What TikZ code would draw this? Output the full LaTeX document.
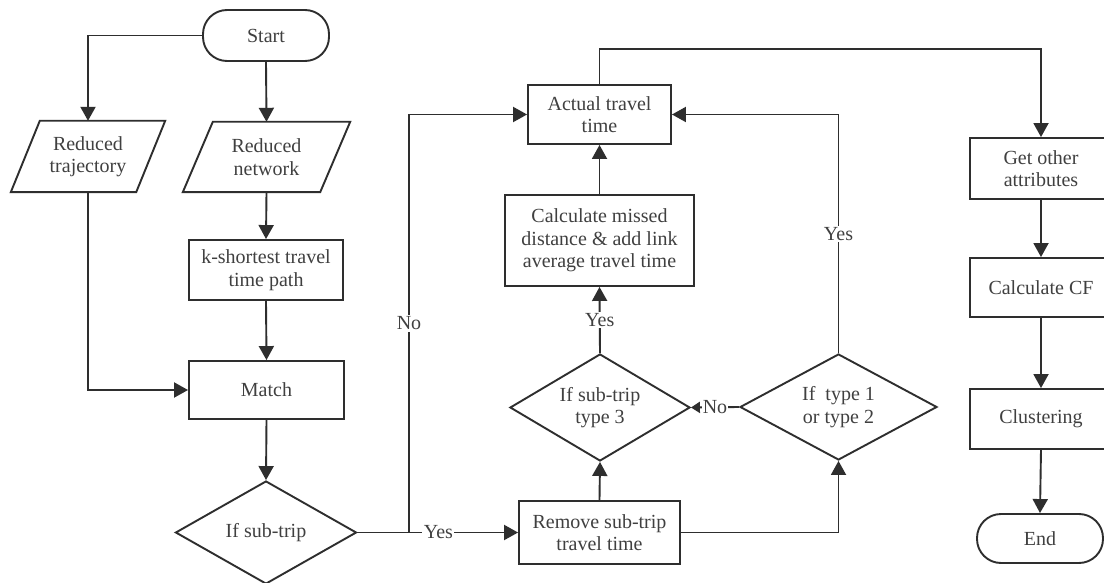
\documentclass[tikz,border=0pt]{standalone}
\usepackage{fontspec}
\setmainfont{Liberation Serif}
\usetikzlibrary{arrows.meta,shapes.geometric}
\definecolor{ink}{HTML}{2E2E2E}
\definecolor{txt}{HTML}{404040}
\tikzset{
  every node/.style={font=\fontsize{20}{22.5}\selectfont, text=txt, align=center},
  box/.style={draw=ink, line width=1.9pt, rectangle, inner sep=0pt},
  term/.style={box, rounded corners=24pt},
  dec/.style={draw=ink, line width=1.9pt, diamond, aspect=1.7, inner sep=0pt},
  ghost/.style={rectangle, inner sep=0pt},
  link/.style={draw=ink, line width=1.9pt},
  flow/.style={link, -{Triangle[length=14pt,width=15pt]}},
  smallflow/.style={link, -{Triangle[length=9pt,width=11pt]}},
  lbl/.style={fill=white, inner sep=1.5pt},
}
\begin{document}
\begin{tikzpicture}[x=1pt,y=-1pt]
  \useasboundingbox (0,0) rectangle (1104,583);
  \clip (0,0) rectangle (1104,583);
  \fill[white] (0,0) rectangle (1104,583);

  % left column: inputs and matching
  \node[term, minimum width=126pt, minimum height=51pt] (start) at (266,35.5) {Start};
  \node[ghost, minimum width=125pt, minimum height=71pt] (traj) at (88,156.5) {Reduced\\trajectory};
  \node[ghost, minimum width=137pt, minimum height=70pt] (net) at (266.5,157) {Reduced\\network};
  \node[box, minimum width=154pt, minimum height=60pt] (kpath) at (266,270) {k-shortest travel\\time path};
  \node[box, minimum width=155pt, minimum height=58pt] (match) at (266.5,390) {Match};
  \node[dec, minimum width=181pt, minimum height=103pt] (sub) at (266,532.5) {If sub-trip};

  % parallelogram outlines of the input nodes
  \draw[link] ([xshift=14.5pt]traj.north west) -- ([xshift=14.5pt]traj.north east)
    -- ([xshift=-14.5pt]traj.south east) -- ([xshift=-14.5pt]traj.south west) -- cycle;
  \draw[link] ([xshift=15pt]net.north west) -- ([xshift=15pt]net.north east)
    -- ([xshift=-15pt]net.south east) -- ([xshift=-15pt]net.south west) -- cycle;

  % middle column: travel time computation
  \node[box, minimum width=143pt, minimum height=59pt] (actual) at (599.5,114.5) {Actual travel\\time};
  \node[box, minimum width=189pt, minimum height=91pt] (calc) at (599.5,240.5) {Calculate missed\\distance \& add link\\average travel time};
  \node[dec, minimum width=180pt, minimum height=107pt] (d3) at (600,407.5) {If sub-trip\\type 3};
  \node[box, minimum width=161pt, minimum height=63pt] (remove) at (599.5,532.5) {Remove sub-trip\\travel time};
  \node[dec, minimum width=197pt, minimum height=106pt] (d1) at (838.5,407) {If\ \ type 1\\or type 2};

  % right column: attributes and clustering
  \node[box, minimum width=142pt, minimum height=61pt] (get) at (1041,168.5) {Get other\\attributes};
  \node[box, minimum width=142pt, minimum height=59pt] (cf) at (1041,287.5) {Calculate CF};
  \node[box, minimum width=142pt, minimum height=60pt] (clus) at (1041,419) {Clustering};
  \node[term, minimum width=126pt, minimum height=49pt] (end) at (1040,538.5) {End};

  \coordinate (split) at (409,532.5);
  \coordinate (over) at (599.5,49);

  % connectors
  \draw[flow] (start.west) -| (traj.north);
  \draw[flow] (start.south) -- (net.north);
  \draw[flow] (net.south) -- (kpath.north);
  \draw[flow] (kpath.south) -- (match.north);
  \draw[flow] (traj.south) |- (match.west);
  \draw[flow] (match.south) -- (sub.north);

  \draw[link] (sub.east) -- (split);
  \draw[flow] (split) -- node[lbl, pos=0.27] {Yes} (remove.west);
  \draw[flow] (split) |- node[lbl, pos=0.25] {No} (actual.west);

  \draw[flow] (remove.north) -- (d3.south);
  \draw[flow] (d3.north) -- node[lbl, pos=0.5] {Yes} (calc.south);
  \draw[flow] (calc.north) -- (actual.south);
  \draw[flow] (remove.east) -| (d1.south);
  \draw[smallflow] (d1.west) -- node[lbl, pos=0.5, inner sep=0.5pt] {No} (d3.east);
  \draw[flow] (d1.north) |- node[lbl, pos=0.25] {Yes} (actual.east);

  \draw[flow] (actual.north) -- (over) -| (get.north);
  \draw[flow] (get.south) -- (cf.north);
  \draw[flow] (cf.south) -- (clus.north);
  \draw[flow] (clus.south) -- (end.north);
\end{tikzpicture}
\end{document}
